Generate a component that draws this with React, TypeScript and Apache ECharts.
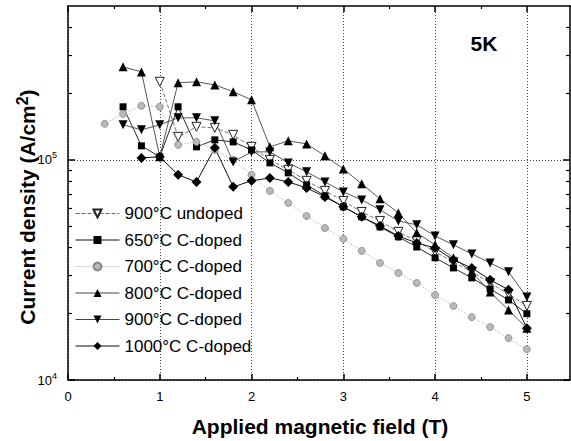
import React, { useEffect, useRef } from 'react';
import * as echarts from 'echarts';

// Applied magnetic field (T)
const field = [0.4, 0.6, 0.8, 1.0, 1.2, 1.4, 1.6, 1.8, 2.0, 2.2, 2.4, 2.6, 2.8, 3.0, 3.2, 3.4, 3.6, 3.8, 4.0, 4.2, 4.4, 4.6, 4.8, 5.0];

// Current density (A/cm^2)
const undoped900 = [null, null, null, 226300, 127200, 141300, 139800, 129900, 114600, 100000, 90100, 80300, 72300, 65100, 58000, 52800, 47100, 42800, 38200, 34400, 31000, 27600, 24600, 21700];
const doped650 = [null, 174200, 115800, 103200, 174200, 114600, 123300, 120700, 111000, 96900, 87300, 77000, 68600, 61200, 55100, 49600, 44700, 40200, 35900, 32300, 29100, 25900, 23100, 20000];
const doped700 = [145800, 161800, 176000, 174200, 117000, 120700, 111000, 100000, 85500, 72300, 63700, 55600, 49000, 43800, 38600, 34000, 30600, 27600, 24300, 21700, 19300, 17400, 15500, 13800];
const doped800 = [null, 264700, 251000, 103200, 224000, 226300, 219000, 204000, 187400, 114600, 122000, 118200, 104300, 91000, 77800, 66500, 57400, 46600, 41100, 35900, 31000, 25100, 20800, 17200];
const doped900 = [null, 144300, 136900, 144300, 155200, 155200, 150400, 97900, 108700, 108700, 96900, 88200, 79400, 71500, 65800, 59300, 52800, 50700, 45100, 41100, 37400, 34000, 31000, 23800];
const doped1000 = [null, null, 102100, 103200, 85500, 79400, 113400, 75400, 80300, 82800, 79400, 74600, 67900, 61200, 55100, 50100, 45100, 41900, 39800, 35100, 32300, 28500, 25700, 17200];

const seriesNames = ['900°C undoped', '650°C C-doped', '700°C C-doped', '800°C C-doped', '900°C C-doped', '1000°C C-doped'];

const xMajorTicks = [0, 1, 2, 3, 4, 5];
const xMinorTicks = [0.5, 1.5, 2.5, 3.5, 4.5];
const yMajorTicks = [10000, 100000];
const yMinorTicks = [20000, 30000, 40000, 50000, 60000, 70000, 80000, 90000, 200000, 300000, 400000];
const yLabelValues = [10000, 100000];

const FONT = "'Liberation Sans', Arial, sans-serif";

function pairs(vals: (number | null)[]) {
  const out: [number, number][] = [];
  field.forEach((x, i) => {
    const v = vals[i];
    if (v != null) out.push([x, v]);
  });
  return out;
}

export default function App() {
  const ref = useRef<HTMLDivElement>(null);
  useEffect(() => {
    if (!ref.current) return;
    const chart = echarts.init(ref.current, null, { renderer: 'svg' });
    const axisLineStyle = { color: '#000', width: 1.5 };
    const xCommon = { type: 'value', min: 0, max: 5.47 };
    const yCommon = { type: 'log', logBase: 10, min: 10000, max: 500000 };
    const hidden = { show: false };
    const option: any = {
      animation: false,
      backgroundColor: '#fff',
      grid: { left: 68, right: 1, top: 6, bottom: 61, containLabel: false },
      xAxis: [
        {
          ...xCommon, position: 'bottom',
          axisLine: { show: true, onZero: false, lineStyle: axisLineStyle },
          axisTick: { show: true, inside: true, length: 6, customValues: xMajorTicks, lineStyle: { color: '#000', width: 1.5 } },
          axisLabel: { show: true, customValues: xMajorTicks, fontSize: 13, margin: 10, color: '#000', fontFamily: FONT },
          splitLine: { show: true, lineStyle: { type: [1, 2], color: '#444', width: 1 } },
        },
        {
          ...xCommon, position: 'bottom',
          axisLine: { show: false, onZero: false },
          axisTick: { show: true, inside: true, length: 3, customValues: xMinorTicks, lineStyle: { color: '#000', width: 1.2 } },
          axisLabel: hidden, splitLine: hidden,
        },
        {
          ...xCommon, position: 'top',
          axisLine: { show: true, onZero: false, lineStyle: axisLineStyle },
          axisTick: { show: true, inside: true, length: 6, customValues: xMajorTicks, lineStyle: { color: '#000', width: 1.5 } },
          axisLabel: hidden, splitLine: hidden,
        },
        {
          ...xCommon, position: 'top',
          axisLine: { show: false, onZero: false },
          axisTick: { show: true, inside: true, length: 3, customValues: xMinorTicks, lineStyle: { color: '#000', width: 1.2 } },
          axisLabel: hidden, splitLine: hidden,
        },
      ],
      yAxis: [
        {
          ...yCommon, position: 'left',
          axisLine: { show: true, onZero: false, lineStyle: axisLineStyle },
          axisTick: { show: true, inside: true, length: 7, customValues: yMajorTicks, lineStyle: { color: '#000', width: 1.5 } },
          axisLabel: {
            show: true, customValues: yLabelValues, margin: 11, color: '#000',
            formatter: (v: number) => '{b|10}{s|' + Math.round(Math.log10(v)) + '}',
            rich: {
              b: { fontSize: 13, lineHeight: 18, fontFamily: FONT, color: '#000' },
              s: { fontSize: 9, lineHeight: 10, verticalAlign: 'top', fontFamily: FONT, color: '#000' },
            },
          },
          splitLine: { show: true, lineStyle: { type: [1, 2], color: '#444', width: 1 } },
        },
        {
          ...yCommon, position: 'left',
          axisLine: { show: false, onZero: false },
          axisTick: { show: true, inside: true, length: 4, customValues: yMinorTicks, lineStyle: { color: '#000', width: 1.2 } },
          axisLabel: hidden, splitLine: hidden,
        },
        {
          ...yCommon, position: 'right',
          axisLine: { show: true, onZero: false, lineStyle: axisLineStyle },
          axisTick: { show: true, inside: true, length: 7, customValues: yMajorTicks, lineStyle: { color: '#000', width: 1.5 } },
          axisLabel: hidden, splitLine: hidden,
        },
        {
          ...yCommon, position: 'right',
          axisLine: { show: false, onZero: false },
          axisTick: { show: true, inside: true, length: 4, customValues: yMinorTicks, lineStyle: { color: '#000', width: 1.2 } },
          axisLabel: hidden, splitLine: hidden,
        },
      ],
      legend: {
        left: 70, top: 200, orient: 'vertical',
        itemWidth: 44, itemHeight: 10, itemGap: 9.5,
        lineStyle: { width: 1 },
        textStyle: { fontSize: 17, lineHeight: 16, fontFamily: FONT, color: '#000' },
        data: seriesNames,
      },
      graphic: [
        {
          type: 'text', x: 27, y: 207, rotation: Math.PI / 2,
          style: {
            text: '{m|Current density (A/cm}{s|2}{m|)}',
            align: 'center', verticalAlign: 'middle', fill: '#000',
            rich: {
              m: { fontSize: 21, fontWeight: 'bold', fontFamily: FONT, lineHeight: 26, fill: '#000' },
              s: { fontSize: 16, fontWeight: 'bold', fontFamily: FONT, lineHeight: 16, verticalAlign: 'top', fill: '#000' },
            },
          },
        },
        {
          type: 'text', x: 320, y: 426,
          style: { text: 'Applied magnetic field (T)', fontSize: 21, fontWeight: 'bold', fontFamily: FONT, align: 'center', verticalAlign: 'middle', fill: '#000' },
        },
        {
          type: 'text', x: 484, y: 43,
          style: { text: '5K', fontSize: 21, fontWeight: 'bold', fontFamily: FONT, align: 'center', verticalAlign: 'middle', fill: '#000' },
        },
      ],
      series: [
        {
          name: seriesNames[0], type: 'line', data: pairs(undoped900),
          symbol: 'triangle', symbolRotate: 180, symbolSize: 9,
          lineStyle: { color: '#666', width: 0.9, type: [4, 2] },
          itemStyle: { color: '#fff', borderColor: '#222', borderWidth: 1 },
        },
        {
          name: seriesNames[1], type: 'line', data: pairs(doped650),
          symbol: 'rect', symbolSize: 7,
          lineStyle: { color: '#111', width: 0.9 },
          itemStyle: { color: '#000' },
        },
        {
          name: seriesNames[2], type: 'line', data: pairs(doped700),
          symbol: 'circle', symbolSize: 7,
          lineStyle: { color: '#999', width: 1, type: [1, 2] },
          itemStyle: { color: '#b8b8b8', borderColor: '#888', borderWidth: 0.8 },
        },
        {
          name: seriesNames[3], type: 'line', data: pairs(doped800),
          symbol: 'triangle', symbolSize: 9,
          lineStyle: { color: '#444', width: 0.9 },
          itemStyle: { color: '#000' },
        },
        {
          name: seriesNames[4], type: 'line', data: pairs(doped900),
          symbol: 'triangle', symbolRotate: 180, symbolSize: 9,
          lineStyle: { color: '#444', width: 0.9 },
          itemStyle: { color: '#000' },
        },
        {
          name: seriesNames[5], type: 'line', data: pairs(doped1000),
          symbol: 'diamond', symbolSize: 10,
          lineStyle: { color: '#111', width: 1 },
          itemStyle: { color: '#000' },
        },
      ],
    };
    chart.setOption(option);
    return () => chart.dispose();
  }, []);
  return (
    <div
      ref={ref}
      style={{ position: 'fixed', left: 0, top: 0, width: 571, height: 441, background: '#fff' }}
    />
  );
}
